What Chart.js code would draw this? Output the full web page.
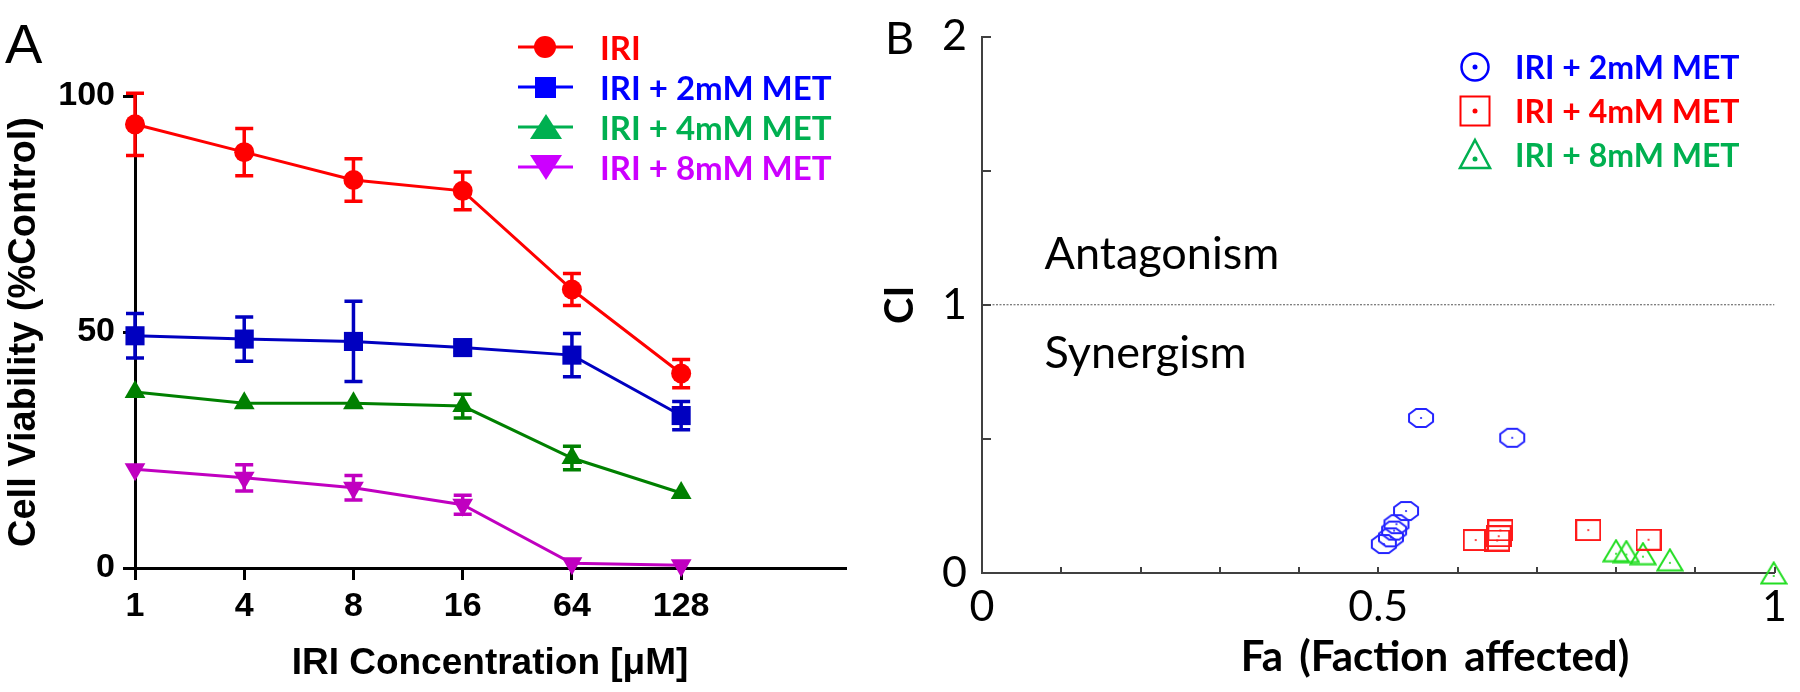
<!DOCTYPE html>
<html><head><meta charset="utf-8">
<script src="https://cdn.jsdelivr.net/npm/chart.js@4.4.0/dist/chart.umd.min.js"></script>
<style>
body{margin:0;background:#fff;width:1800px;height:692px;overflow:hidden;position:relative}
canvas{position:absolute;top:0}
#cA{left:0}
#cB{left:880px}
.lbl{position:absolute;white-space:nowrap;line-height:1}
.row{position:absolute;display:flex;align-items:center;white-space:nowrap;height:30px;line-height:30px}
.row svg{flex:none}
</style></head><body>
<canvas id="cA" width="880" height="692"></canvas>
<canvas id="cB" width="920" height="692"></canvas>
<div class="lbl" style="left:5px;top:11px;font:56px 'Liberation Sans'">A</div>
<div class="lbl" style="left:885px;top:10px;font:45px Lato">B</div>
<div class="lbl" style="left:1435px;top:655px;transform:translate(-50%,-50%);font:bold 42px Lato;word-spacing:6px">Fa (Faction affected)</div>
<div id="legA"></div>
<div id="legB"></div>
<script>
// ---------- Panel A data ----------
const cats = ['1','4','8','16','64','128'];
const iri     = [94.0, 88.1, 82.2, 79.9, 59.0, 41.2];
const iriErr  = [6.6, 5.0, 4.5, 4.0, 3.4, 3.0];
const met2    = [49.2, 48.5, 48.0, 46.7, 45.1, 32.3];
const met2Err = [4.7, 4.7, 8.5, 1.0, 4.6, 3.0];
const met4    = [37.3, 34.9, 34.9, 34.3, 23.3, 15.9];
const met4Err = [0, 0, 0, 2.5, 2.5, 0];
const met8    = [20.9, 19.1, 17.0, 13.4, 1.0, 0.6];
const met8Err = [0, 2.8, 2.6, 2.0, 0, 0];
const yTicksA = [0, 50, 100];
const namesA = ['IRI', 'IRI + 2mM MET', 'IRI + 4mM MET', 'IRI + 8mM MET'];

// ---------- Panel B data ----------
const fa2 = [0.554, 0.669, 0.535, 0.523, 0.520, 0.516, 0.507];
const ci2 = [0.578, 0.504, 0.231, 0.182, 0.158, 0.133, 0.108];
const fa4 = [0.623, 0.650, 0.652, 0.654, 0.765, 0.841];
const ci4 = [0.123, 0.121, 0.137, 0.159, 0.160, 0.124];
const fa8 = [0.800, 0.813, 0.834, 0.868, 0.999];
const ci8 = [0.083, 0.080, 0.072, 0.049, 0.0];
const refFa = [0, 1];
const refCi = [1, 1];
const namesB = ['IRI + 2mM MET', 'IRI + 4mM MET', 'IRI + 8mM MET'];

// ---------- Panel A ----------
const errBars = {
  id: 'errBars',
  beforeDatasetsDraw(chart) {
    const {ctx, scales: {x, y}} = chart;
    chart.data.datasets.forEach(ds => {
      if (!ds.errors) return;
      ctx.save();
      ctx.strokeStyle = ds.borderColor; ctx.lineWidth = 3.5;
      ds.data.forEach((p, j) => {
        const e = ds.errors[j]; if (!e) return;
        const px = x.getPixelForValue(p.x), t = y.getPixelForValue(p.y + e), b = y.getPixelForValue(p.y - e);
        ctx.beginPath();
        ctx.moveTo(px, t); ctx.lineTo(px, b);
        ctx.moveTo(px - 9, t); ctx.lineTo(px + 9, t);
        ctx.moveTo(px - 9, b); ctx.lineTo(px + 9, b);
        ctx.stroke();
      });
      ctx.restore();
    });
  }
};
const toXY = arr => arr.map((v, i) => ({x: i, y: v}));
const tickFontA = {family: 'Liberation Sans', size: 34, weight: 'bold', lineHeight: 1};
const titleFontA = (s) => ({family: 'Liberation Sans', size: s, weight: 'bold', lineHeight: 1});
function dsA(label, vals, errs, color, style, r, rot) {
  return {label, data: toXY(vals), errors: errs, borderColor: color, backgroundColor: color,
    borderWidth: 3, pointStyle: style, pointRadius: r, pointRotation: rot || 0,
    pointBorderWidth: 0, clip: false, tension: 0};
}
new Chart(document.getElementById('cA'), {
  type: 'line',
  data: {datasets: [
    dsA(namesA[0], iri, iriErr, '#ff0000', 'circle', 10),
    dsA(namesA[1], met2, met2Err, '#0000c0', 'rect', 13.5),
    dsA(namesA[2], met4, met4Err, '#008000', 'triangle', 12),
    dsA(namesA[3], met8, met8Err, '#c000c0', 'triangle', 12, 180)
  ]},
  options: {
    responsive: false, animation: false, devicePixelRatio: 1,
    layout: {padding: {left: 0, top: 96, right: 35, bottom: 0}},
    plugins: {legend: {display: false}, tooltip: {enabled: false}},
    scales: {
      x: {type: 'linear', min: 0, max: 6.5,
        afterBuildTicks: s => { s.ticks = cats.map((c, i) => ({value: i})); },
        afterFit: s => { s.height = 124; },
        grid: {drawOnChartArea: false, drawTicks: true, tickLength: 12, color: '#000', lineWidth: 3},
        border: {display: true, color: '#000', width: 3},
        ticks: {callback: v => cats[v], font: tickFontA, color: '#000', padding: 10, maxRotation: 0, autoSkip: false},
        title: {display: true, text: 'IRI Concentration [μM]', font: titleFontA(37), color: '#000', padding: {top: 0, bottom: 10}}
      },
      y: {min: 0, max: 100,
        afterBuildTicks: s => { s.ticks = yTicksA.map(v => ({value: v})); },
        afterFit: s => { s.width = 135; },
        grid: {drawOnChartArea: false, drawTicks: true, tickLength: 12, color: '#000', lineWidth: 3},
        border: {display: true, color: '#000', width: 3},
        ticks: {font: tickFontA, color: '#000', padding: 8},
        title: {display: true, text: 'Cell Viability (%Control)', font: titleFontA(38), color: '#000', padding: {top: 6, bottom: 0}}
      }
    }
  },
  plugins: [errBars]
});

// ---------- Panel B ----------
function mk(w, h, draw) { const c = document.createElement('canvas'); c.width = w; c.height = h; draw(c.getContext('2d')); return c; }
const circImg = mk(30, 24, g => {
  g.strokeStyle = '#2424ff'; g.lineWidth = 2;
  g.beginPath();
  for (let k = 0; k < 8; k++) { const a = Math.PI / 8 + k * Math.PI / 4; const px = 15 + 13 * Math.cos(a), py = 12 + 9.8 * Math.sin(a); k ? g.lineTo(px, py) : g.moveTo(px, py); }
  g.closePath(); g.stroke();
  g.fillStyle = '#2424ff'; g.beginPath(); g.arc(15, 12, 1.1, 0, Math.PI * 2); g.fill();
});
const sqImg = mk(26, 22, g => {
  g.strokeStyle = '#ff1a1a'; g.lineWidth = 2; g.strokeRect(1, 1, 24, 20);
  g.fillStyle = '#ff1a1a'; g.beginPath(); g.arc(13, 11, 1.1, 0, Math.PI * 2); g.fill();
});
const triImg = mk(28, 24, g => {
  g.strokeStyle = '#22dd22'; g.lineWidth = 2;
  g.beginPath(); g.moveTo(14, 1.5); g.lineTo(26.5, 22.5); g.lineTo(1.5, 22.5); g.closePath(); g.stroke();
  g.fillStyle = '#22dd22'; g.beginPath(); g.arc(14, 15, 1.1, 0, Math.PI * 2); g.fill();
});
const zipXY = (xs, ys) => xs.map((v, i) => ({x: v, y: ys[i]}));
const fontB = (s, w) => ({family: 'Lato', size: s, weight: w || 'normal', lineHeight: 1});
const innerTicks = {
  id: 'innerTicks',
  afterDraw(chart) {
    const {ctx, scales: {x, y}, chartArea: ca} = chart;
    ctx.save(); ctx.strokeStyle = '#404040'; ctx.lineWidth = 2;
    x.ticks.forEach(t => { if (t.value <= 0.001) return; const px = Math.round(x.getPixelForValue(t.value)); ctx.beginPath(); ctx.moveTo(px, ca.bottom); ctx.lineTo(px, ca.bottom - 6); ctx.stroke(); });
    y.ticks.forEach(t => { if (t.value <= 0.001) return; const py = Math.round(y.getPixelForValue(t.value)); ctx.beginPath(); ctx.moveTo(ca.left, py); ctx.lineTo(ca.left + 9, py); ctx.stroke(); });
    ctx.fillStyle = '#000'; ctx.font = '45px Lato'; ctx.textBaseline = 'alphabetic'; ctx.textAlign = 'left';
    ctx.fillText('Antagonism', x.getPixelForValue(0.079), y.getPixelForValue(1.135));
    ctx.fillText('Synergism', x.getPixelForValue(0.079), y.getPixelForValue(0.766));
    ctx.restore();
  }
};
const nice = v => Math.round(v * 10) / 10;
new Chart(document.getElementById('cB'), {
  type: 'scatter',
  data: {datasets: [
    {type: 'line', label: 'CI = 1', data: zipXY(refFa, refCi), borderColor: '#555', borderWidth: 1.2, borderDash: [2, 1.5], pointRadius: 0, order: 5},
    {label: namesB[0], data: zipXY(fa2, ci2), pointStyle: circImg, pointRadius: 12, clip: false},
    {label: namesB[1], data: zipXY(fa4, ci4), pointStyle: sqImg, pointRadius: 12, clip: false},
    {label: namesB[2], data: zipXY(fa8, ci8), pointStyle: triImg, pointRadius: 12, clip: false}
  ]},
  options: {
    responsive: false, animation: false, devicePixelRatio: 1,
    layout: {padding: {left: 0, top: 31, right: 21, bottom: 0}},
    plugins: {legend: {display: false}, tooltip: {enabled: false}},
    scales: {
      x: {type: 'linear', min: 0, max: 1,
        afterFit: s => { s.height = 119; },
        grid: {display: false, drawTicks: false},
        border: {display: true, color: '#404040', width: 2},
        ticks: {stepSize: 0.1, autoSkip: false, maxRotation: 0, padding: 13, color: '#000', font: fontB(43),
          callback: v => { const r = nice(v); return r === 0 ? '0' : r === 0.5 ? '0.5' : r === 1 ? '1' : ''; }}
      },
      y: {min: 0, max: 2,
        afterFit: s => { s.width = 102; },
        grid: {display: false, drawTicks: false},
        border: {display: true, color: '#404040', width: 2},
        ticks: {stepSize: 0.5, padding: 15, color: '#000', font: fontB(43),
          callback: v => Number.isInteger(nice(v)) ? String(nice(v)) : ''},
        title: {display: true, text: 'CI', font: fontB(40, 'bold'), color: '#000', padding: 0}
      }
    }
  },
  plugins: [innerTicks]
});

// ---------- HTML legends ----------
const legA = [
  {c: '#ff0000', m: '<circle cx="27" cy="15" r="11" fill="#ff0000"/>'},
  {c: '#0000ff', m: '<rect x="17" y="5" width="21" height="21" fill="#0000ff"/>'},
  {c: '#00b050', m: '<polygon points="28,2 44,27 12,27" fill="#00b050"/>'},
  {c: '#cc00ff', m: '<polygon points="28,28 44,3 12,3" fill="#cc00ff"/>'}
];
const rowsA = [47, 87, 127, 167];
document.getElementById('legA').innerHTML = namesA.map((n, i) =>
  `<div class="row" style="left:518px;top:${rowsA[i] - 15}px;font:bold 33px Lato;color:${legA[i].c}">` +
  `<svg width="55" height="30" viewBox="0 0 55 30"><line x1="0" y1="15" x2="55" y2="15" stroke="${legA[i].c}" stroke-width="3"/>${legA[i].m}</svg>` +
  `<span style="margin-left:27px">${n}</span></div>`).join('');
const legB = [
  {c: '#0000ff', m: '<circle cx="17" cy="17" r="13.5" fill="none" stroke="#0000ff" stroke-width="2.5"/><circle cx="17" cy="17" r="2.5" fill="#0000ff"/>'},
  {c: '#ff0000', m: '<rect x="2.5" y="2.5" width="29" height="29" fill="none" stroke="#ff0000" stroke-width="2"/><circle cx="17" cy="17" r="2.5" fill="#ff0000"/>'},
  {c: '#00b050', m: '<polygon points="17,3 32,31 2,31" fill="none" stroke="#00b050" stroke-width="2.5"/><circle cx="17" cy="22" r="2.5" fill="#00b050"/>'}
];
const rowsB = [66.7, 110.7, 154];
document.getElementById('legB').innerHTML = namesB.map((n, i) =>
  `<div class="row" style="left:1458px;top:${rowsB[i] - 17}px;height:34px;line-height:34px;font:bold 32px Lato;color:${legB[i].c}">` +
  `<svg width="34" height="34" viewBox="0 0 34 34">${legB[i].m}</svg>` +
  `<span style="margin-left:23px">${n}</span></div>`).join('');
</script>
</body></html>
